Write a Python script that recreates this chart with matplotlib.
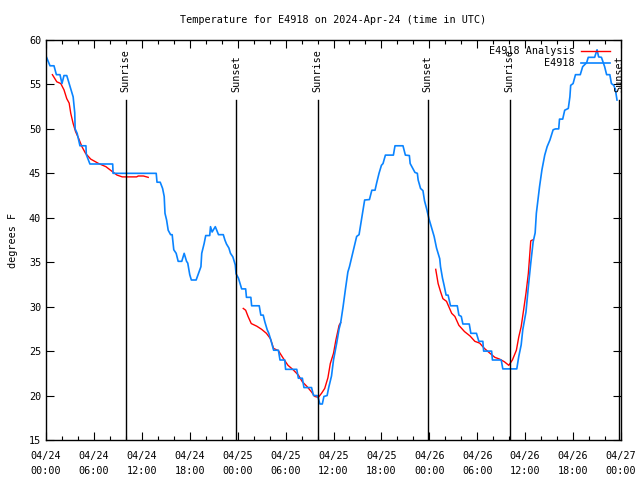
import numpy as np
import pandas as pd
import matplotlib
matplotlib.use("Agg")
import matplotlib.pyplot as plt
import matplotlib.dates as mdates

# datos (horas desde 2024-04-24 00:00 UTC, grados F)
obs_hours = [0.0, 0.5, 1.0, 1.3, 1.75, 2.0, 2.25, 2.6, 2.9, 3.4, 3.6, 3.65, 3.9, 4.25, 5.0, 5.05, 5.5,
             8.35, 8.4, 13.8, 13.9, 14.3, 14.6, 14.8, 14.9, 15.1, 15.3, 15.6, 15.8, 16.0, 16.3, 16.55,
             17.0, 17.3, 17.6, 17.75, 18.0, 18.2, 18.8, 19.1, 19.4, 19.5, 19.8, 20.0, 20.5, 20.6, 20.8,
             21.0, 21.2, 21.6, 22.2, 22.4, 22.6, 22.9, 23.1, 23.4, 23.7, 23.8, 24.1, 24.5, 25.0, 25.1,
             25.65, 25.75, 26.7, 26.9, 27.2, 27.4, 27.7, 27.9, 28.2, 28.5, 29.1, 29.3, 29.9, 30.0, 31.4,
             31.6, 32.1, 32.3, 33.25, 33.5, 33.95, 34.1, 34.3, 34.6, 34.8, 35.2, 35.4, 35.75, 36.0, 36.4,
             36.7, 36.9, 37.2, 37.5, 37.8, 38.0, 38.5, 38.9, 39.2, 39.5, 39.7, 39.9, 40.5, 40.8, 41.2,
             41.4, 41.7, 42.0, 42.2, 42.5, 43.5, 43.7, 44.7, 45.0, 45.5, 45.6, 45.9, 46.2, 46.5, 46.6,
             46.9, 47.2, 47.4, 47.65, 47.95, 48.3, 48.6, 48.9, 49.3, 49.4, 49.65, 49.85, 50.1, 50.35,
             50.65, 51.5, 51.7, 52.0, 52.2, 53.0, 53.2, 53.9, 54.2, 54.7, 54.8, 55.8, 55.9, 57.0, 57.2,
             58.95, 59.2, 59.5, 59.7, 60.1, 60.4, 60.7, 61.0, 61.25, 61.4, 61.8, 62.1, 62.45, 62.75,
             63.1, 63.5, 63.8, 64.2, 64.3, 64.7, 64.95, 65.4, 65.6, 65.7, 66.0, 66.3, 66.9, 67.2, 67.7,
             67.9, 68.7, 69.0, 69.2, 69.55, 69.95, 70.2, 70.6, 70.8, 71.1, 71.3, 71.5]
obs_temps = [58.2, 57.1, 57.1, 56.1, 56.1, 55.1, 56.0, 56.0, 55.1, 53.6, 51.8, 50.0, 49.5, 48.1, 48.1, 47.1, 46.05,
             46.05, 45.0, 45.0, 44.0, 44.0, 43.3, 42.4, 40.5, 39.75, 38.6, 38.1, 38.1, 36.4, 36.0, 35.1,
             35.1, 36.0, 35.1, 34.9, 33.6, 33.0, 33.0, 33.75, 34.5, 36.0, 37.1, 38.0, 38.0, 39.0, 38.4,
             38.7, 39.0, 38.1, 38.1, 37.5, 37.05, 36.6, 36.0, 35.6, 34.7, 33.7, 33.2, 32.0, 32.0, 31.05,
             31.05, 30.1, 30.1, 29.05, 29.05, 28.3, 27.4, 27.0, 26.1, 25.1, 25.1, 24.0, 24.0, 22.95, 22.95,
             21.95, 21.95, 20.9, 20.9, 20.0, 20.0, 19.7, 19.05, 19.05, 19.9, 20.0, 20.9, 22.2, 24.0, 25.9,
             27.5, 28.2, 30.0, 32.0, 33.9, 34.5, 36.4, 37.9, 38.1, 39.75, 40.9, 42.0, 42.05, 43.1, 43.1,
             43.9, 45.0, 45.9, 46.1, 47.05, 47.05, 48.1, 48.1, 47.05, 47.0, 46.1, 45.6, 45.1, 45.0, 44.25,
             43.3, 43.05, 41.9, 41.05, 39.9, 38.8, 37.9, 36.6, 35.4, 34.5, 33.2, 32.4, 31.3, 31.3,
             30.1, 30.1, 29.05, 28.9, 28.05, 28.05, 27.0, 27.0, 26.1, 26.1, 25.0, 25.0, 24.0, 24.0, 23.0,
             23.0, 24.4, 25.7, 27.4, 29.4, 32.25, 34.9, 37.3, 38.3, 40.5, 43.5, 45.4, 47.05, 48.0,
             48.75, 49.9, 50.0, 50.0, 51.1, 51.1, 52.1, 52.3, 53.6, 54.9, 55.1, 56.1, 56.1, 57.0, 57.45,
             58.05, 58.05, 58.9, 58.1, 58.05, 57.0, 56.1, 56.1, 55.1, 54.9, 54.4, 53.25]

ana1_hours = [0.8, 1.35, 1.85, 2.25, 2.6, 2.9, 3.1, 3.4, 3.7, 4.1, 4.5, 4.95, 5.6, 6.6, 7.5, 8.3, 8.9,
              9.55, 11.35, 11.55, 12.2, 12.8]
ana1_temps = [56.1, 55.3, 55.1, 54.4, 53.4, 52.9, 51.75, 50.6, 49.7, 48.9, 48.0, 47.25, 46.6, 46.1, 45.75,
              45.2, 44.8, 44.6, 44.6, 44.7, 44.7, 44.55]
ana2_hours = [24.7, 25.0, 25.3, 25.7, 26.4, 27.0, 27.6, 28.1, 28.5, 29.1, 29.7, 30.3, 30.95, 31.6, 32.1,
              32.7, 33.25, 33.65, 34.1, 34.5, 34.9, 35.3, 35.6, 36.0, 36.3, 36.7, 36.9]
ana2_temps = [29.8, 29.6, 28.9, 28.1, 27.8, 27.45, 27.0, 26.4, 25.3, 25.05, 24.2, 23.4, 22.9, 22.3, 21.55,
              21.0, 20.4, 19.9, 19.8, 20.25, 20.8, 22.0, 23.6, 24.75, 26.25, 27.9, 28.2]
ana3_hours = [48.8, 49.1, 49.4, 49.7, 50.15, 50.8, 51.2, 51.7, 52.4, 53.1, 53.7, 54.3, 54.9, 55.6, 56.2,
              56.8, 57.4, 57.95, 58.4, 58.9, 59.2, 59.5, 59.8, 60.1, 60.4, 60.7, 60.9]
ana3_temps = [34.2, 32.6, 31.7, 30.9, 30.6, 29.25, 28.9, 27.9, 27.2, 26.7, 26.1, 25.9, 25.3, 24.75, 24.3,
              24.1, 23.8, 23.4, 24.0, 25.1, 26.6, 27.75, 29.6, 31.5, 33.75, 37.4, 37.5]

sun_hours = [10.0, 23.78, 34.04, 47.8, 58.07, 71.8]
sun_labels = ['Sunrise', 'Sunset', 'Sunrise', 'Sunset', 'Sunrise', 'Sunset']

t0 = pd.Timestamp('2024-04-24 00:00')
def to_time(h):
    return t0 + pd.to_timedelta(np.array(h), unit='h')

FONT = 'DejaVu Sans Mono'
FS = 7.3
plt.rcParams['font.family'] = FONT
plt.rcParams['font.size'] = FS

fig = plt.figure(figsize=(6.4, 4.8), dpi=100)
ax = fig.add_axes([46 / 640, 40 / 480, 575 / 640, 400 / 480])

# analisis (rojo) primero, observaciones encima
for i, (hh, tt) in enumerate([(ana1_hours, ana1_temps), (ana2_hours, ana2_temps), (ana3_hours, ana3_temps)]):
    ax.plot(to_time(hh), tt, color='#ff0000', lw=1.0, label='E4918 Analysis' if i == 0 else None)
ax.plot(to_time(obs_hours), obs_temps, color='#0a84ff', lw=1.2, label='E4918')

# lineas de salida / puesta del sol
for h, lab in zip(sun_hours, sun_labels):
    tt = to_time([h])[0]
    ax.plot([tt, tt], [15, 53.3], color='black', lw=1.0)
    ax.text(tt, 54.1, lab, rotation=90, ha='center', va='bottom', fontsize=FS)

ax.set_xlim(to_time([0])[0], to_time([72])[0])
ax.set_ylim(15, 60)
ax.set_yticks(np.arange(15, 61, 5))
ax.xaxis.set_major_locator(mdates.HourLocator(byhour=[0, 6, 12, 18]))
ax.xaxis.set_minor_locator(mdates.HourLocator(interval=2))
ax.xaxis.set_major_formatter(mdates.DateFormatter('%m/%d\n%H:%M'))
ax.tick_params(which='both', direction='in', top=True, right=True, labelsize=FS)
ax.tick_params(which='major', length=6, width=0.8)
ax.tick_params(which='minor', length=3, width=0.8)
ax.tick_params(axis='x', which='major', pad=8)
for lab in ax.get_xticklabels():
    lab.set_linespacing(1.6)
for s in ax.spines.values():
    s.set_linewidth(1.0)

ax.set_ylabel('degrees F', fontsize=FS, labelpad=8)
ax.set_title('Temperature for E4918 on 2024-Apr-24 (time in UTC)', fontsize=FS, pad=12)

ax.legend(loc='upper right', frameon=False, markerfirst=False, fontsize=FS,
          handlelength=2.9, handletextpad=0.6, labelspacing=0.2,
          bbox_to_anchor=(0.992, 1.0), borderaxespad=0.2)

fig.savefig('out.png', dpi=100)
